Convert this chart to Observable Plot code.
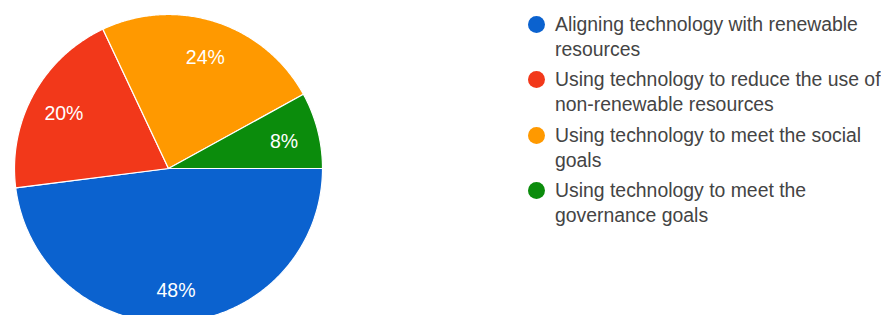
<!DOCTYPE html>
<html>
<head>
<meta charset="utf-8">
<script src="https://cdn.jsdelivr.net/npm/d3@7"></script>
<script src="https://cdn.jsdelivr.net/npm/@observablehq/plot@0.6"></script>
<style>
  html, body { margin: 0; padding: 0; background: #fff; }
  #wrap { position: relative; width: 881px; height: 315px; overflow: hidden; }
  #legend { position: absolute; left: 528px; top: 11.5px; font-family: Arial, "Liberation Sans", sans-serif; font-size: 19.4px; color: #444; }
  .item { display: flex; align-items: flex-start; margin-bottom: 5.5px; }
  .sw { width: 17px; height: 17px; border-radius: 50%; flex: none; margin-top: 4px; margin-right: 10px; }
  .lab { width: 328px; line-height: 25px; }
</style>
</head>
<body>
<div id="wrap"><div id="legend"></div></div>
<script>
const categories = [
  "Aligning technology with renewable resources",
  "Using technology to reduce the use of non-renewable resources",
  "Using technology to meet the social goals",
  "Using technology to meet the governance goals"
];
const values = [48, 20, 24, 8];
const colors = ["#0b62cf", "#f2381a", "#ff9900", "#0b8c0c"];

const rows = categories.map((c, i) => ({category: c, value: values[i]}));
const arcs = d3.pie().value(d => d.value).sort(null)
  .startAngle(Math.PI / 2).endAngle(Math.PI / 2 + 2 * Math.PI)(rows);

// polygon vertices of each slice in unit-circle coordinates
const verts = [];
arcs.forEach(a => {
  verts.push({category: a.data.category, x: 0, y: 0});
  const n = Math.max(2, Math.ceil((a.endAngle - a.startAngle) / (Math.PI / 360)));
  for (let k = 0; k <= n; k++) {
    const t = a.startAngle + (a.endAngle - a.startAngle) * k / n;
    verts.push({category: a.data.category, x: Math.sin(t), y: Math.cos(t)});
  }
  verts.push({category: a.data.category, x: 0, y: 0});
});
const labelR = 0.775;
const labels = arcs.map(a => {
  const m = (a.startAngle + a.endAngle) / 2;
  return {text: a.data.value + "%", x: labelR * Math.sin(m), y: labelR * Math.cos(m)};
});

const chart = Plot.plot({
  width: 881,
  height: 315,
  margin: 0,
  x: {domain: [-1, 1], range: [14, 322], axis: null},
  y: {domain: [-1, 1], range: [322, 14], axis: null},
  color: {domain: categories, range: colors},
  style: {background: "white", fontFamily: "Arial, 'Liberation Sans', sans-serif"},
  marks: [
    Plot.line(verts, {x: "x", y: "y", z: "category", fill: "category", stroke: "white", strokeWidth: 1.2, curve: "linear"}),
    Plot.text(labels, {x: "x", y: "y", text: "text", fill: "white", fontSize: 19.5, textAnchor: "middle", lineAnchor: "middle", dy: 3})
  ]
});
document.getElementById("wrap").prepend(chart);

const legend = document.getElementById("legend");
categories.forEach((c, i) => {
  const it = document.createElement("div");
  it.className = "item";
  const sw = document.createElement("div");
  sw.className = "sw";
  sw.style.background = colors[i];
  const lab = document.createElement("div");
  lab.className = "lab";
  lab.textContent = c;
  it.append(sw, lab);
  legend.append(it);
});
</script>
</body>
</html>
